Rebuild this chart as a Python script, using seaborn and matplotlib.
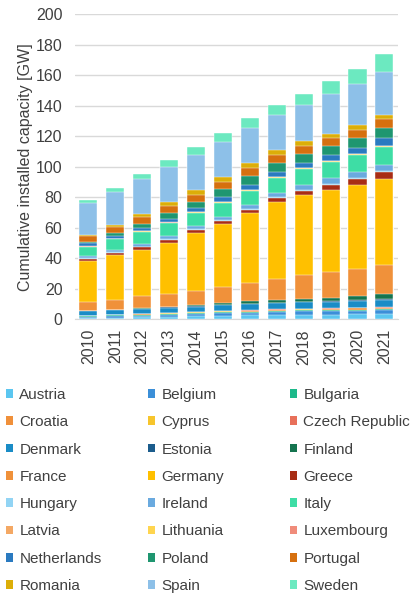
import numpy as np
import pandas as pd
import matplotlib
matplotlib.use("Agg")
import matplotlib.pyplot as plt
from matplotlib.patches import Patch
import seaborn as sns

# cumulative onshore capacity per country [GW], 2010-2021
years = ["2010", "2011", "2012", "2013", "2014", "2015",
         "2016", "2017", "2018", "2019", "2020", "2021"]

countries = ["Austria", "Belgium", "Bulgaria", "Croatia", "Cyprus", "Czech Republic",
             "Denmark", "Estonia", "Finland", "France", "Germany", "Greece",
             "Hungary", "Ireland", "Italy", "Latvia", "Lithuania", "Luxembourg",
             "Netherlands", "Poland", "Portugal", "Romania", "Spain", "Sweden"]

austria = [1.01, 1.08, 1.38, 1.68, 2.09, 2.41, 2.63, 2.83, 3.04, 3.16, 3.23, 3.30]
belgium = [0.71, 0.88, 1.00, 1.12, 1.25, 1.52, 1.68, 1.93, 2.15, 2.31, 2.43, 2.60]
bulgaria = [0.38, 0.61, 0.67, 0.68, 0.69, 0.70, 0.70, 0.70, 0.70, 0.70, 0.70, 0.70]
croatia = [0.09, 0.13, 0.18, 0.25, 0.35, 0.42, 0.48, 0.58, 0.58, 0.65, 0.80, 0.99]
cyprus = [0.08, 0.13, 0.15, 0.15, 0.15, 0.16, 0.16, 0.16, 0.16, 0.16, 0.16, 0.16]
czech = [0.22, 0.22, 0.26, 0.27, 0.28, 0.28, 0.28, 0.31, 0.32, 0.34, 0.34, 0.34]
denmark = [2.9, 3.0, 3.2, 3.5, 3.6, 3.8, 4.0, 4.2, 4.4, 4.4, 4.6, 4.7]
estonia = [0.15, 0.18, 0.27, 0.28, 0.30, 0.30, 0.31, 0.31, 0.31, 0.32, 0.32, 0.32]
finland = [0.2, 0.2, 0.29, 0.45, 0.6, 1.0, 1.5, 2.0, 2.0, 2.2, 2.5, 3.2]
france = [5.7, 6.6, 7.6, 8.2, 9.2, 10.3, 11.8, 13.5, 15.1, 16.5, 17.6, 19.0]
germany = [26.9, 28.9, 30.6, 33.7, 38.1, 41.5, 45.9, 50.5, 52.8, 54.2, 55.3, 56.8]
greece = [1.3, 1.6, 1.75, 1.9, 2.0, 2.2, 2.4, 2.6, 2.8, 3.4, 4.1, 4.6]
hungary = [0.3] * 12
ireland = [1.4, 1.6, 1.7, 2.0, 2.2, 2.4, 2.8, 3.1, 3.6, 3.9, 4.2, 4.3]
italy = [6.2, 6.9, 8.1, 8.6, 8.7, 9.2, 9.4, 9.8, 10.2, 10.6, 10.9, 11.3]
latvia = [0.03, 0.03, 0.06, 0.06, 0.07, 0.07, 0.07, 0.07, 0.07, 0.07, 0.08, 0.08]
lithuania = [0.15, 0.18, 0.26, 0.28, 0.28, 0.42, 0.49, 0.52, 0.53, 0.55, 0.54, 0.67]
luxembourg = [0.04, 0.04, 0.06, 0.06, 0.06, 0.06, 0.12, 0.12, 0.12, 0.14, 0.15, 0.15]
netherlands = [2.0, 2.1, 2.2, 2.5, 2.6, 3.0, 3.3, 3.2, 3.4, 3.5, 4.1, 5.0]
poland = [1.1, 1.6, 2.5, 3.4, 3.8, 5.1, 5.8, 5.8, 5.9, 5.9, 6.3, 6.9]
portugal = [3.9, 4.4, 4.5, 4.7, 4.95, 5.1, 5.3, 5.3, 5.4, 5.4, 5.5, 5.6]
romania = [0.46, 0.98, 1.9, 2.6, 2.95, 2.98, 3.0, 3.0, 3.0, 3.0, 3.0, 3.0]
spain = [20.7, 21.7, 22.8, 23.0, 23.0, 23.0, 23.1, 23.2, 23.5, 25.6, 27.2, 28.2]
sweden = [2.2, 2.8, 3.6, 4.4, 5.3, 5.9, 6.4, 6.6, 7.2, 8.9, 9.6, 11.9]

colors = ["#5BC6F0", "#3B8FD8", "#1DB98A", "#F0903A", "#F7C52C", "#E8705A",
          "#1A8CC6", "#1B5C8C", "#15744F", "#F0913A", "#FFC000", "#A82D15",
          "#92D4F4", "#6AAADF", "#3EDDA5", "#F4A864", "#FFD54F", "#F08C7A",
          "#2A7AC0", "#1F9670", "#D6700F", "#DCAE08", "#8DC0E8", "#6CE9C0"]

values = [austria, belgium, bulgaria, croatia, cyprus, czech, denmark, estonia,
          finland, france, germany, greece, hungary, ireland, italy, latvia,
          lithuania, luxembourg, netherlands, poland, portugal, romania, spain, sweden]

df = pd.DataFrame(np.array(values).T, index=years, columns=countries)
cum = df.cumsum(axis=1)

sns.set_style("white")
plt.rcParams["font.family"] = ["Liberation Sans", "DejaVu Sans"]
text_color = "#404040"

fig = plt.figure(figsize=(4.14, 5.97), dpi=100)
ax = fig.add_axes([0.181, 0.465, 0.78, 0.5115])

# stacked bars: draw cumulative totals from the top segment down
for country, color in zip(countries[::-1], colors[::-1]):
    sns.barplot(x=years, y=cum[country].values, color=color, width=0.67,
                edgecolor="white", linewidth=0.3, saturation=1, ax=ax, zorder=3)

ax.set_ylim(0, 200)
ax.set_yticks(np.arange(0, 201, 20))
ax.set_xlim(-0.5, 11.5)
ax.grid(axis="y", color="#D9D9D9", linewidth=1, zorder=0)
ax.set_axisbelow(True)
for side in ["top", "right", "left"]:
    ax.spines[side].set_visible(False)
ax.spines["bottom"].set_color("#D9D9D9")
ax.tick_params(axis="both", length=0, labelsize=11.5, colors=text_color)
ax.tick_params(axis="x", rotation=90, pad=7)
ax.tick_params(axis="y", pad=9)
ax.set_xlabel("")
ax.set_ylabel("Cumulative installed capacity [GW]", fontsize=11.5, color=text_color, labelpad=2)

# legend in three columns, row-major order
handles = [Patch(facecolor=c, edgecolor="none") for c in colors]
col_x = [-0.005, 0.338, 0.681]
for j in range(3):
    idx = list(range(j, len(countries), 3))
    fig.legend([handles[i] for i in idx], [countries[i] for i in idx],
               loc="upper left", bbox_to_anchor=(col_x[j], 0.363),
               frameon=False, fontsize=11, handlelength=0.5, handleheight=0.5,
               handletextpad=0.4, labelspacing=0.87, borderpad=0, labelcolor=text_color)

fig.savefig("out.png", dpi=100)
